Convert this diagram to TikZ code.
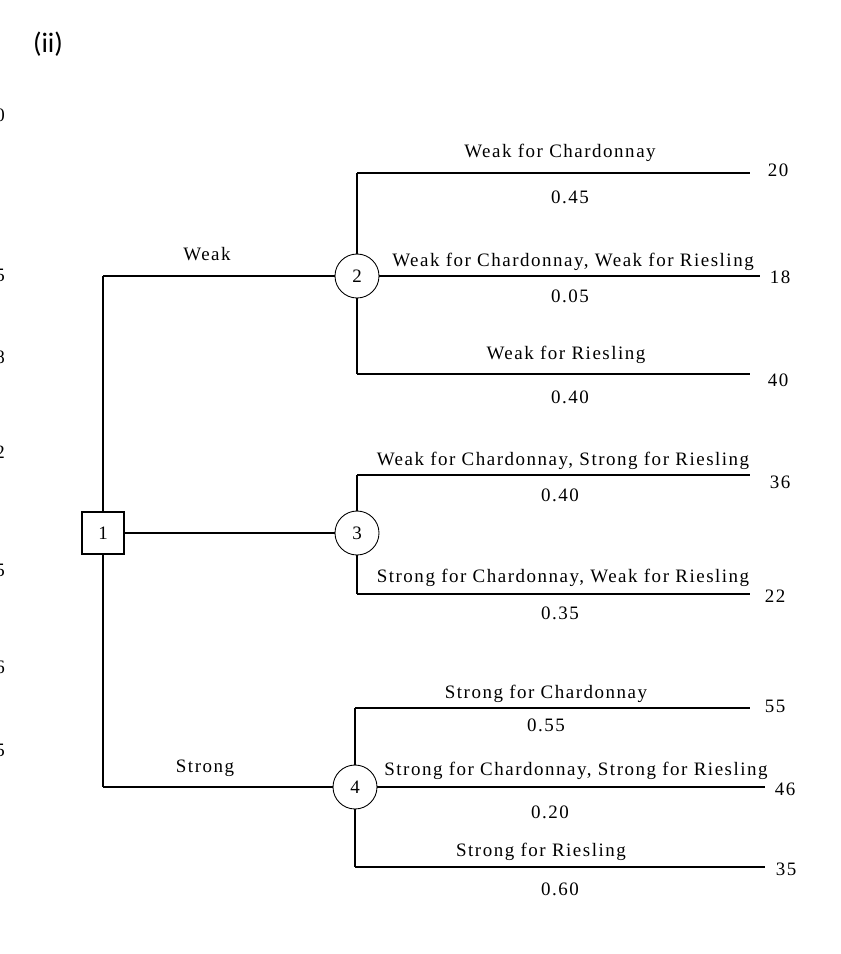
\documentclass[tikz,border=0pt]{standalone}
\usepackage{fontspec}
\setmainfont{Liberation Serif}
\newfontfamily\tagfont{Carlito}
\usepackage{tikz}
\usetikzlibrary{positioning,calc}

\tikzset{
  decision/.style={draw, line width=1.4pt, minimum size=0.84cm, inner sep=0pt, font=\lblfont},
  chance/.style={draw, circle, line width=0.5pt, minimum size=0.88cm, inner sep=0pt, font=\lblfont},
  thin branch/.style={line width=0.8pt},
  thick branch/.style={line width=1.5pt},
  brlabel/.style={font=\lblfont, inner sep=1pt},
  payoff/.style={font=\lblfont, inner sep=1pt},
}
\newcommand{\lblfont}{\addfontfeatures{LetterSpace=8}\fontsize{10.8}{12}\selectfont}

\begin{document}
\begin{tikzpicture}[x=0.02cm, y=-0.02cm]
  \useasboundingbox (0,0) rectangle (840,954);
  \node[font=\tagfont\fontsize{16}{18}\selectfont] (tag) at (48,44) {(ii)};
  % cut-off digits at the left edge
  \foreach \y/\d in {115/0,275/5,357/8,452/2,570/5,667/6,750/5}{
    \node[font=\fontsize{10.8}{12}\selectfont, anchor=center] at (0,\y) {\d};
  }
  % decision and chance nodes
  \node[decision] (d1) at (103,533) {1};
  \node[chance] (c2) at (357,276) {2};
  \node[chance] (c3) at (357,533) {3};
  \node[chance] (c4) at (355,787) {4};
  % corners on the decision line
  \coordinate (upcorner) at (103,276);
  \coordinate (lowcorner) at (103,787);
  \draw[thin branch] (d1.north) -- (upcorner);
  \draw[thin branch] (d1.south) -- (lowcorner);
  \draw[thick branch] (upcorner) -- (c2.west);
  \draw[thin branch] (d1.east) -- (c3.west);
  \draw[thin branch] (lowcorner) -- (c4.west);
  \node[brlabel] (weak) at (207,254) {Weak};
  \node[brlabel] (strong) at (205,768) {Strong};

  % chance node 2
  \coordinate (a1) at (357,173); \coordinate (a1e) at (750,173);
  \coordinate (a2e) at (760,276);
  \coordinate (a3) at (357,374); \coordinate (a3e) at (750,374);
  \draw[thick branch] (c2.north) -- (a1);
  \draw[thick branch] (c2.south) -- (a3);
  \draw[thin branch] (a1) -- (a1e);
  \draw[thin branch] (c2.east) -- (a2e);
  \draw[thin branch] (a3) -- (a3e);
  \node[brlabel] at (560,153) {Weak for Chardonnay};
  \node[brlabel] at (570,197) {0.45};
  \node[payoff] at (778,170) {20};
  \node[brlabel] at (573,262) {Weak for Chardonnay, Weak for Riesling};
  \node[brlabel] at (570,296) {0.05};
  \node[payoff] at (780,277) {18};
  \node[brlabel] at (566,355) {Weak for Riesling};
  \node[brlabel] at (570,397) {0.40};
  \node[payoff] at (778,380) {40};

  % chance node 3
  \coordinate (b1) at (357,475); \coordinate (b1e) at (750,475);
  \coordinate (b2) at (357,594); \coordinate (b2e) at (750,594);
  \draw[thick branch] (c3.north) -- (b1);
  \draw[thick branch] (c3.south) -- (b2);
  \draw[thin branch] (b1) -- (b1e);
  \draw[thin branch] (b2) -- (b2e);
  \node[brlabel] at (563,461) {Weak for Chardonnay, Strong for Riesling};
  \node[brlabel] at (560,495) {0.40};
  \node[payoff] at (780,482) {36};
  \node[brlabel] at (563,578) {Strong for Chardonnay, Weak for Riesling};
  \node[brlabel] at (560,613) {0.35};
  \node[payoff] at (775,596) {22};

  % chance node 4
  \coordinate (e1) at (355,708); \coordinate (e1e) at (750,708);
  \coordinate (e2e) at (765,787);
  \coordinate (e3) at (355,867); \coordinate (e3e) at (765,867);
  \draw[thick branch] (c4.north) -- (e1);
  \draw[thick branch] (c4.south) -- (e3);
  \draw[thin branch] (e1) -- (e1e);
  \draw[thin branch] (c4.east) -- (e2e);
  \draw[thick branch] (e3) -- (e3e);
  \node[brlabel] at (546,694) {Strong for Chardonnay};
  \node[brlabel] at (546,725) {0.55};
  \node[payoff] at (775,706) {55};
  \node[brlabel] at (576,771) {Strong for Chardonnay, Strong for Riesling};
  \node[brlabel] at (550,812) {0.20};
  \node[payoff] at (785,789) {46};
  \node[brlabel] at (541,852) {Strong for Riesling};
  \node[brlabel] at (560,889) {0.60};
  \node[payoff] at (786,869) {35};
\end{tikzpicture}
\end{document}
